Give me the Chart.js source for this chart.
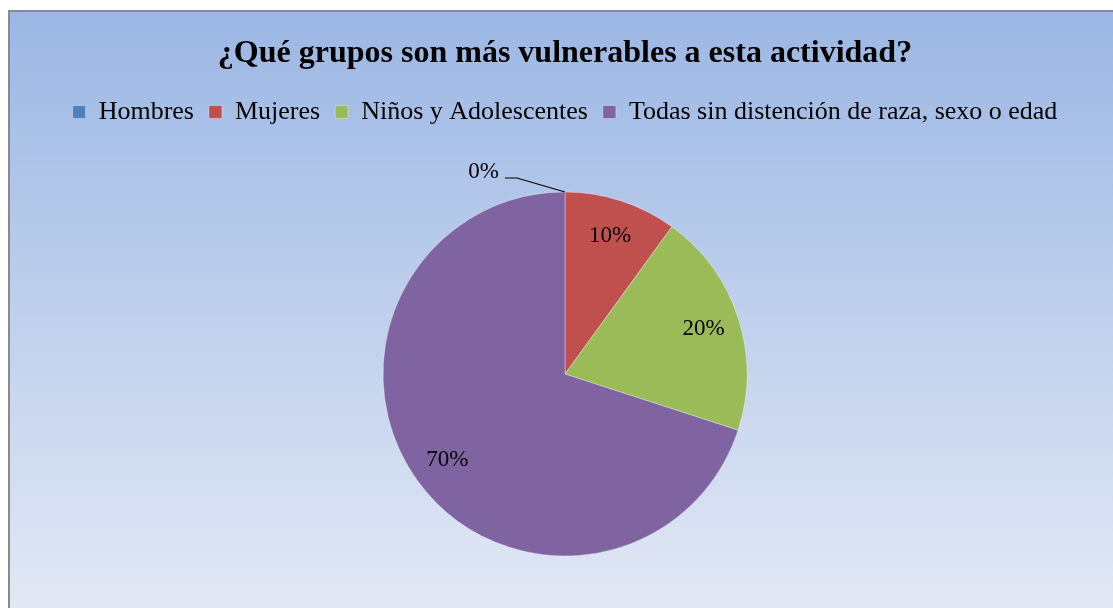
<!DOCTYPE html>
<html>
<head>
<meta charset="utf-8">
<script src="https://cdn.jsdelivr.net/npm/chart.js@4.4.1/dist/chart.umd.min.js"></script>
<style>
html,body{margin:0;padding:0;background:#fff;}
#wrap{position:absolute;left:0;top:0;width:1113px;height:608px;}
</style>
</head>
<body>
<div id="wrap"><canvas id="c" width="1113" height="608"></canvas></div>
<script>
const titleText = "¿Qué grupos son más vulnerables a esta actividad?";
const categories = ["Hombres", "Mujeres", "Niños y Adolescentes", "Todas sin distención de raza, sexo o edad"];
const values = [0, 10, 20, 70];
const colors = ["#4f81bd", "#c0504d", "#9bbb59", "#8064a2"];

const bgPlugin = {
  id: 'bg',
  beforeDraw(chart) {
    const ctx = chart.ctx;
    ctx.save();
    ctx.fillStyle = '#ffffff';
    ctx.fillRect(0, 0, chart.width, chart.height);
    const g = ctx.createLinearGradient(0, 10, 0, chart.height);
    g.addColorStop(0, '#9bb7e4');
    g.addColorStop(1, '#e2e8f5');
    ctx.fillStyle = g;
    ctx.fillRect(9, 11, chart.width - 9, chart.height - 11);
    ctx.strokeStyle = '#8a8a8a';
    ctx.lineWidth = 2;
    ctx.beginPath();
    ctx.moveTo(9, chart.height);
    ctx.lineTo(9, 11);
    ctx.lineTo(chart.width, 11);
    ctx.stroke();
    ctx.restore();
  }
};

const legendSpace = {
  id: 'legendSpace',
  beforeInit(chart) {
    const lg = chart.legend;
    if (!lg) return;
    const orig = lg.fit;
    lg.fit = function () {
      orig.call(this);
      this.height += 5;
    };
  }
};

const labelPlugin = {
  id: 'pctLabels',
  afterDatasetsDraw(chart) {
    const ctx = chart.ctx;
    const meta = chart.getDatasetMeta(0);
    const data = chart.data.datasets[0].data;
    const total = data.reduce((a, b) => a + b, 0);
    ctx.save();
    ctx.font = '23px "Liberation Serif", "Times New Roman", serif';
    ctx.fillStyle = '#000';
    meta.data.forEach((arc, i) => {
      const p = arc.getProps(['x', 'y', 'startAngle', 'endAngle', 'outerRadius'], true);
      const pct = Math.round(data[i] / total * 100) + '%';
      const mid = (p.startAngle + p.endAngle) / 2;
      if (data[i] === 0) {
        const ax = p.x + Math.cos(mid) * p.outerRadius;
        const ay = p.y + Math.sin(mid) * p.outerRadius;
        ctx.strokeStyle = '#000';
        ctx.lineWidth = 1.2;
        ctx.beginPath();
        ctx.moveTo(ax, ay);
        ctx.lineTo(ax - 48, ay - 14);
        ctx.lineTo(ax - 60, ay - 14);
        ctx.stroke();
        ctx.textAlign = 'right';
        ctx.textBaseline = 'middle';
        ctx.fillText(pct, ax - 66, ay - 20);
      } else {
        const r = p.outerRadius * 0.8;
        ctx.textAlign = 'center';
        ctx.textBaseline = 'middle';
        ctx.fillText(pct, p.x + Math.cos(mid) * r, p.y + Math.sin(mid) * r);
      }
    });
    ctx.restore();
  }
};

new Chart(document.getElementById('c'), {
  type: 'pie',
  data: {
    labels: categories,
    datasets: [{
      data: values,
      backgroundColor: colors,
      borderColor: 'rgba(255,255,255,0.35)',
      borderWidth: 1,
      radius: 182
    }]
  },
  options: {
    responsive: false,
    animation: false,
    layout: { padding: { top: 24, bottom: 0, left: 17, right: 0 } },
    plugins: {
      title: {
        display: true,
        text: titleText,
        color: '#000',
        font: { family: '"Liberation Serif", "Times New Roman", serif', size: 32, weight: 'bold' },
        padding: { top: 10.8, bottom: 10.8 }
      },
      legend: {
        display: true,
        position: 'top',
        labels: {
          color: '#000',
          font: { family: '"Liberation Serif", "Times New Roman", serif', size: 26 },
          boxWidth: 13,
          boxHeight: 13,
          padding: 15
        }
      },
      tooltip: { enabled: false }
    }
  },
  plugins: [bgPlugin, legendSpace, labelPlugin]
});
</script>
</body>
</html>
